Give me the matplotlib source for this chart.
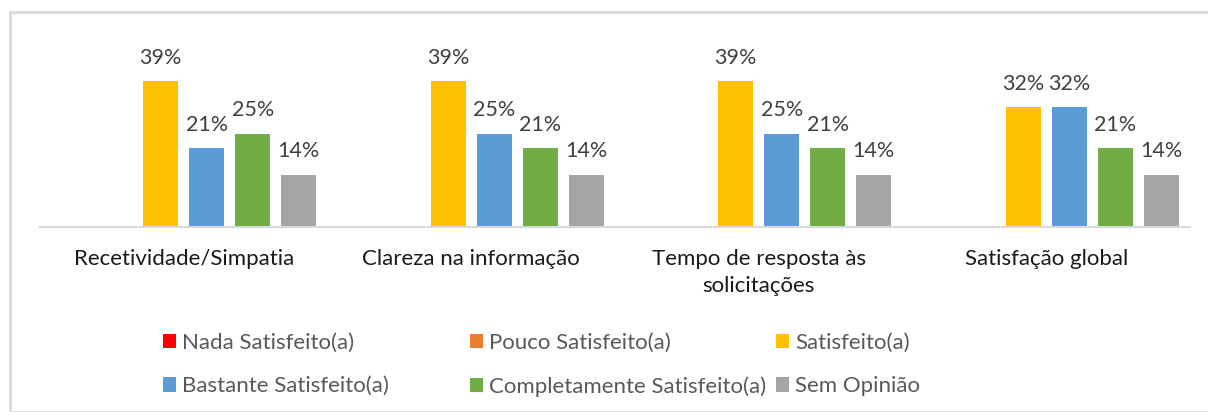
import matplotlib.pyplot as plt
import numpy as np
from matplotlib.patches import Rectangle

categories = ["Recetividade/Simpatia", "Clareza na informação",
              "Tempo de resposta às\nsolicitações", "Satisfação global"]
series = ["Nada Satisfeito(a)", "Pouco Satisfeito(a)", "Satisfeito(a)",
          "Bastante Satisfeito(a)", "Completamente Satisfeito(a)", "Sem Opinião"]
nada = [0, 0, 0, 0]
pouco = [0, 0, 0, 0]
satisfeito = [0.39, 0.39, 0.39, 0.32]
bastante = [0.21, 0.25, 0.25, 0.32]
completamente = [0.25, 0.21, 0.21, 0.21]
sem_opiniao = [0.14, 0.14, 0.14, 0.14]
colors = ["#ff0000", "#ed7d31", "#ffc000", "#5b9bd5", "#70ad47", "#a5a5a5"]

plt.rcParams['font.family'] = ['Lato', 'DejaVu Sans']

W, H = 1208, 412
fig = plt.figure(figsize=(W / 100, H / 100), dpi=100)
fig.patches.append(Rectangle((10 / W, 0), 1.0, 1 - 12 / H, transform=fig.transFigure,
                             fill=False, edgecolor="#d9d9d9", linewidth=2, zorder=0))

ax = fig.add_axes([40 / W, 185 / H, 1150 / W, 187 / H])
x = np.arange(len(categories))
step = 0.16
width = 0.122
values = [nada, pouco, satisfeito, bastante, completamente, sem_opiniao]
handles = []
for i, (name, vals, col) in enumerate(zip(series, values, colors)):
    pos = x + (i - 2.5) * step
    bars = ax.bar(pos, vals, width, color=col, label=name)
    handles.append(bars)
    for b, v in zip(bars, vals):
        if v > 0:
            ax.text(b.get_x() + b.get_width() / 2, v + 0.036, f"{v:.0%}",
                    ha="center", va="bottom", fontsize=15.5, color="#404040")

ax.set_xlim(-0.5, len(categories) - 0.5)
ax.set_ylim(0, 0.5)
ax.set_yticks([])
ax.set_xticks(x)
ax.set_xticklabels(categories, fontsize=16, color="#1a1a1a", va="top", linespacing=1.4)
ax.tick_params(axis="x", length=0, pad=16)
for s in ["top", "right", "left"]:
    ax.spines[s].set_visible(False)
ax.spines["bottom"].set_color("#d9d9d9")
ax.spines["bottom"].set_linewidth(1.5)

# legend: three columns laid out row by row like Excel
col_x = [163, 470, 776]
for c in range(3):
    idx = [c, c + 3]
    fig.legend([handles[k] for k in idx], [series[k] for k in idx], ncol=1,
               loc="upper left", bbox_to_anchor=(col_x[c] / W, 1 - 333 / H),
               frameon=False, fontsize=16, handlelength=0.6, handleheight=0.6,
               handletextpad=0.25, labelspacing=1.05, borderaxespad=0, borderpad=0,
               labelcolor="#595959")

fig.savefig("out.png", dpi=100)
